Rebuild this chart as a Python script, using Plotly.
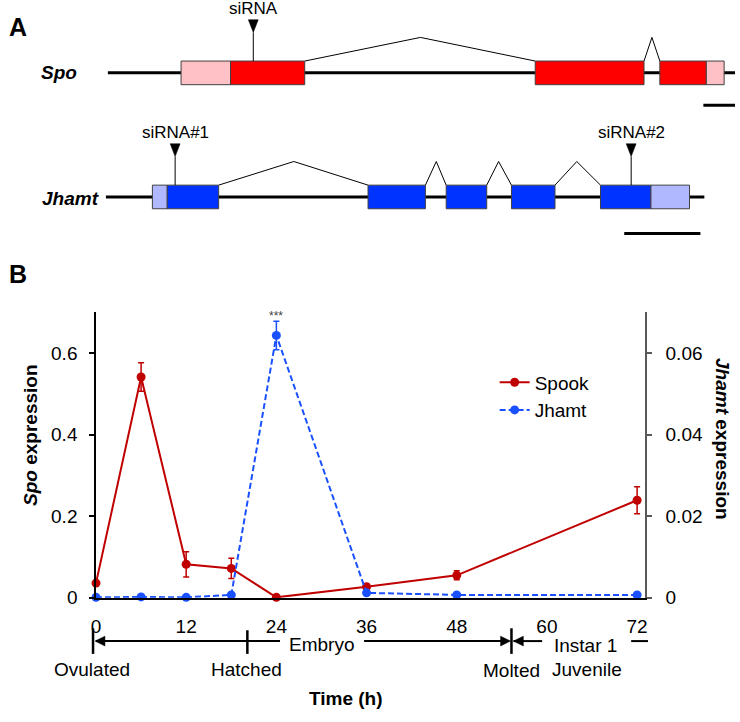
import plotly.graph_objects as go

W, H = 740, 722
FONT = "Arial, Liberation Sans, sans-serif"

# ---------------- Data (panel B) ----------------
time_h = [0, 6, 12, 18, 24, 36, 48, 72]
spook = [0.036, 0.541, 0.082, 0.072, 0.001, 0.027, 0.055, 0.239]
spook_err = [0.005, 0.035, 0.031, 0.025, 0.002, 0.003, 0.011, 0.033]
jhamt = [0.0001, 0.0002, 0.0001, 0.0007, 0.0643, 0.0012, 0.0007, 0.0007]
jhamt_err = [0.0001, 0.0001, 0.0001, 0.0002, 0.0035, 0.0002, 0.0002, 0.0002]
x_ticks = [0, 12, 24, 36, 48, 60, 72]
spo_ticks = [0, 0.2, 0.4, 0.6]
spo_ticktext = ["0", "0.2", "0.4", "0.6"]
jh_ticks = [0, 0.02, 0.04, 0.06]
jh_ticktext = ["0", "0.02", "0.04", "0.06"]

# ---------------- Gene structures (panel A, schematic units) ----------------
spo_exons = [(178, 228, "utr"), (228, 303, "cds"), (536, 646, "cds"), (662, 709, "cds"), (709, 727, "utr")]
spo_introns = [(303, 420, 536), (646, 654, 662)]
spo_span = (104, 738)
spo_sirna = [(251, "siRNA")]
jh_exons = [(149, 164, "utr"), (164, 216, "cds"), (367, 425, "cds"), (446, 487, "cds"),
            (512, 556, "cds"), (602, 653, "cds"), (653, 692, "utr")]
jh_introns = [(216, 292, 367), (425, 436, 446), (487, 499, 512), (556, 578, 602)]
jh_span = (102, 707)
jh_sirna = [(172, "siRNA#1"), (633, "siRNA#2")]


def X(px):
    return px / W


def Y(py):
    return 1 - py / H


RED, BLUE = "#C00000", "#1A50FF"

fig = go.Figure()
fig.add_trace(go.Scatter(
    x=time_h, y=spook, name="Spook", mode="lines+markers",
    line=dict(color=RED, width=2), marker=dict(size=9, color=RED),
    error_y=dict(type="data", array=spook_err, color=RED, thickness=1.5, width=3),
    cliponaxis=False))
fig.add_trace(go.Scatter(
    x=time_h, y=jhamt, name="Jhamt", mode="lines+markers", yaxis="y2",
    line=dict(color=BLUE, width=2, dash="6px,3px"), marker=dict(size=9, color=BLUE),
    error_y=dict(type="data", array=jhamt_err, color=BLUE, thickness=1.5, width=3),
    cliponaxis=False))

shapes = []
ann = []


def txt(px, py, text, size=19, xanchor="center", **kw):
    d = dict(x=X(px), y=Y(py), xref="paper", yref="paper", text=text, showarrow=False,
             xanchor=xanchor, yanchor="middle", font=dict(size=size, color="black"))
    d.update(kw)
    ann.append(d)


def gene(exons, introns, span, sirnas, yc, colors):
    top, bot = yc - 12, yc + 12
    shapes.append(dict(type="line", xref="paper", yref="paper", x0=X(span[0]), x1=X(span[1]),
                       y0=Y(yc), y1=Y(yc), line=dict(color="black", width=3)))
    for a, peak, b in introns:
        shapes.append(dict(type="path", xref="paper", yref="paper",
                           path=f"M{X(a)},{Y(top)} L{X(peak)},{Y(top - 24)} L{X(b)},{Y(top)}",
                           line=dict(color="black", width=1)))
    for a, b, kind in exons:
        shapes.append(dict(type="rect", xref="paper", yref="paper", x0=X(a), x1=X(b),
                           y0=Y(bot), y1=Y(top), fillcolor=colors[kind],
                           line=dict(color="#404040", width=1)))
    for xs, label in sirnas:
        shapes.append(dict(type="line", xref="paper", yref="paper", x0=X(xs), x1=X(xs),
                           y0=Y(top), y1=Y(top - 29), line=dict(color="black", width=1)))
        shapes.append(dict(type="path", xref="paper", yref="paper",
                           path=f"M{X(xs - 5)},{Y(top - 42)} L{X(xs + 5)},{Y(top - 42)} L{X(xs)},{Y(top - 29)} Z",
                           fillcolor="black", line=dict(color="black", width=0.5)))
        txt(xs, top - 53, label, size=17)


gene(spo_exons, spo_introns, spo_span, spo_sirna, 74, {"utr": "#FFC0C6", "cds": "#FF0000"})
gene(jh_exons, jh_introns, jh_span, jh_sirna, 200, {"utr": "#B0B8FF", "cds": "#0033FF"})

# scale bars
shapes.append(dict(type="line", xref="paper", yref="paper", x0=X(706), x1=X(738), y0=Y(107), y1=Y(107),
                   line=dict(color="black", width=3)))
shapes.append(dict(type="line", xref="paper", yref="paper", x0=X(626), x1=X(703), y0=Y(237), y1=Y(237),
                   line=dict(color="black", width=3)))

txt(2, 27, "<b>A</b>", size=25, xanchor="left")
txt(2, 278, "<b>B</b>", size=25, xanchor="left")
txt(55, 74, "<b><i>Spo</i></b>")
txt(66, 202, "<b><i>Jhamt</i></b>")

# ---- Panel B timeline ----
TY = 651


def hline(a, b, w=2):
    shapes.append(dict(type="line", xref="paper", yref="paper", x0=X(a), x1=X(b), y0=Y(TY), y1=Y(TY),
                       line=dict(color="black", width=w)))


def vbar(x, y0, y1):
    shapes.append(dict(type="line", xref="paper", yref="paper", x0=X(x), x1=X(x), y0=Y(y0), y1=Y(y1),
                       line=dict(color="black", width=2.5)))


def arrow(tip, base):
    shapes.append(dict(type="path", xref="paper", yref="paper",
                       path=f"M{X(tip)},{Y(TY)} L{X(base)},{Y(TY - 5)} L{X(base)},{Y(TY + 5)} Z",
                       fillcolor="black", line=dict(color="black", width=0.5)))


vbar(89, 638, 664)
arrow(91, 101)
hline(92, 278)
vbar(245, 640, 664)
hline(363, 503)
arrow(511, 501)
vbar(512, 638, 664)
arrow(514, 524)
hline(514, 543)
hline(633, 650)

txt(320, 654, "Embryo")
txt(587, 655, "Instar 1")
txt(88, 680, "Ovulated")
txt(244, 680, "Hatched")
txt(512, 681, "Molted")
txt(588, 680, "Juvenile")
txt(345, 709, "<b>Time (h)</b>")
txt(26, 442, "<b><i>Spo</i> expression</b>", textangle=-90)
txt(726, 446, "<b><i>Jhamt</i> expression</b>", textangle=90)

ann.append(dict(x=24, xref="x", y=jhamt[4] + jhamt_err[4], yref="y2", text="***", showarrow=False,
                xanchor="center", yanchor="bottom", yshift=-4, font=dict(size=12, color="#404040")))

fig.update_layout(
    width=W, height=H, margin=dict(l=0, r=0, t=0, b=0),
    paper_bgcolor="white", plot_bgcolor="rgba(0,0,0,0)",
    font=dict(family=FONT, color="black"),
    showlegend=True,
    legend=dict(x=X(495), y=Y(369), xanchor="left", yanchor="top", bgcolor="rgba(0,0,0,0)",
                font=dict(size=19, color="black"), tracegroupgap=0),
    xaxis=dict(domain=[X(92), X(647)], range=[0, 73.05], tickvals=x_ticks, showgrid=False,
               zeroline=False, showline=True, linecolor="black", linewidth=1.5, ticks="",
               ticklabelstandoff=11, tickfont=dict(size=19), anchor="y"),
    yaxis=dict(domain=[Y(607), Y(317)], range=[0, 0.7], tickvals=spo_ticks, ticktext=spo_ticktext,
               showgrid=False, zeroline=False, showline=True, linecolor="black", linewidth=1.5,
               ticks="outside", ticklen=5, tickwidth=1.5, tickcolor="black",
               ticklabelstandoff=8, tickfont=dict(size=19), anchor="x"),
    yaxis2=dict(domain=[Y(607), Y(317)], range=[0, 0.07], tickvals=jh_ticks, ticktext=jh_ticktext,
                overlaying="y", side="right", anchor="x", showgrid=False, zeroline=False,
                showline=True, linecolor="#595959", linewidth=1.5, ticks="outside", ticklen=5,
                tickwidth=1.5, tickcolor="#595959", ticklabelstandoff=10, tickfont=dict(size=19)),
    shapes=shapes, annotations=ann,
)

post = ("var d=document.documentElement,b=document.body;"
        "d.style.margin='0';d.style.padding='0';d.style.overflow='hidden';d.style.height='722px';"
        "b.style.margin='0';b.style.padding='0';b.style.overflow='hidden';b.style.height='722px';")
fig.write_html("out.html", config={"displayModeBar": False}, post_script=post)
